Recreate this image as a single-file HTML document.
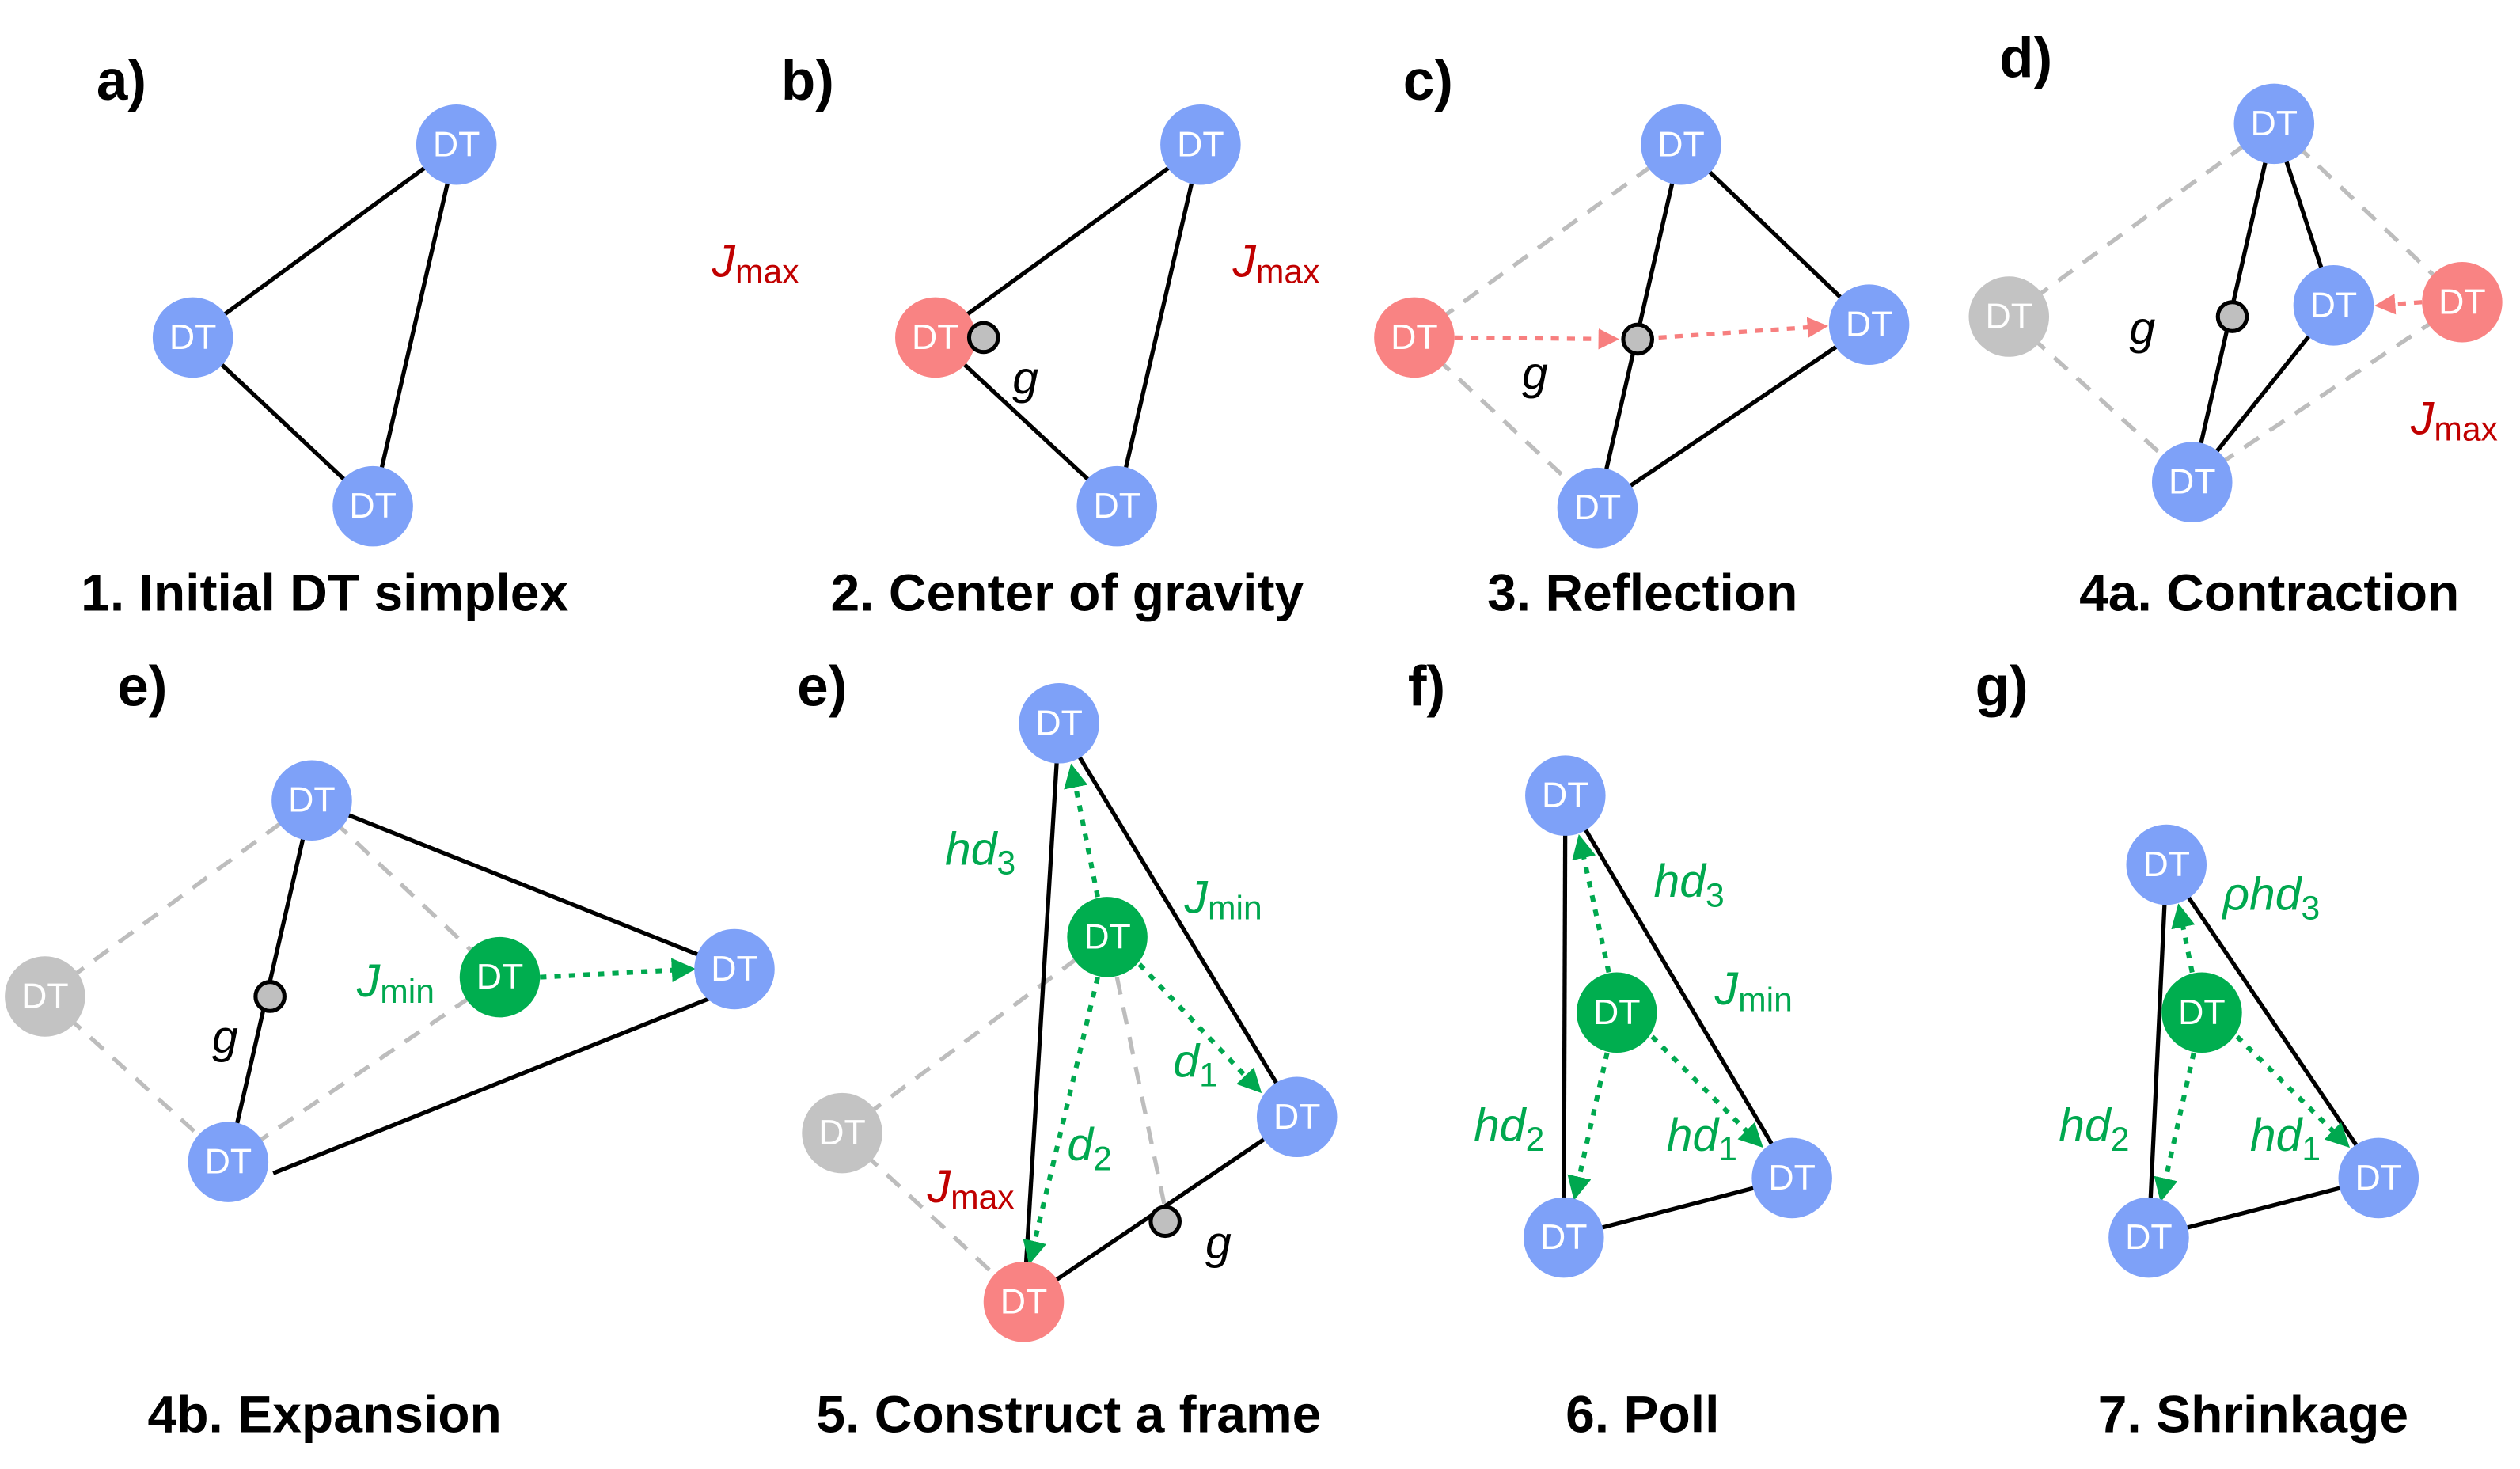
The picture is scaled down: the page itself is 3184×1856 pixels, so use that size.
<!DOCTYPE html>
<html><head><meta charset="utf-8"><style>
html,body{margin:0;padding:0;background:#fff}
svg{display:block}
text{font-family:"Liberation Sans",Arial,sans-serif}
.dt{fill:#fff;font-size:22px;text-anchor:middle;dominant-baseline:central}
.lab{font-size:35px;font-weight:bold}
.cap{font-size:32.5px;font-weight:bold;text-anchor:middle}
.it{font-style:italic;font-size:29px}
.sub{font-style:normal;font-size:21px}
.s{stroke:#000;stroke-width:2.6;fill:none}
.d{stroke:#bdbdbd;stroke-width:2.6;fill:none;stroke-dasharray:11 8}
.ga{stroke:#00a84f;stroke-width:3;fill:none;stroke-dasharray:4 5;marker-end:url(#ag)}
.ra{stroke:#f77f7f;stroke-width:2.6;fill:none;stroke-dasharray:5 5;marker-end:url(#ar)}
.b{fill:#7ea1f8}.r{fill:#f98383}.gr{fill:#c3c3c3}.gn{fill:#00ae4f}
.gp{fill:#bfbfbf;stroke:#000;stroke-width:2.5}
</style></head><body>
<svg width="3184" height="1856" viewBox="0 0 1568 914" xmlns="http://www.w3.org/2000/svg">
<defs>
<marker id="ag" markerWidth="5" markerHeight="5" refX="4" refY="2.5" orient="auto" markerUnits="strokeWidth"><path d="M0,0 L5,2.5 L0,5 Z" fill="#00a84f"/></marker>
<marker id="ar" markerWidth="5" markerHeight="5" refX="4" refY="2.5" orient="auto" markerUnits="strokeWidth"><path d="M0,0 L5,2.5 L0,5 Z" fill="#f77f7f"/></marker>
</defs>

<!-- a -->
<text class="lab" x="60" y="62">a)</text>
<line class="s" x1="120" y1="210" x2="284" y2="90"/><line class="s" x1="284" y1="90" x2="232" y2="315"/><line class="s" x1="232" y1="315" x2="120" y2="210"/>
<circle class="b" cx="284" cy="90" r="25"/><text class="dt" x="284" y="90">DT</text>
<circle class="b" cx="120" cy="210" r="25"/><text class="dt" x="120" y="210">DT</text>
<circle class="b" cx="232" cy="315" r="25"/><text class="dt" x="232" y="315">DT</text>
<text class="it" x="443" y="172" fill="#c00000">J<tspan class="sub" dy="4">max</tspan></text>
<text class="cap" x="202" y="380">1. Initial DT simplex</text>

<!-- b -->
<text class="lab" x="486" y="62">b)</text>
<line class="s" x1="582" y1="210" x2="747" y2="90"/><line class="s" x1="747" y1="90" x2="695" y2="315"/><line class="s" x1="695" y1="315" x2="582" y2="210"/>
<circle class="b" cx="747" cy="90" r="25"/><text class="dt" x="747" y="90">DT</text>
<circle class="r" cx="582" cy="210" r="25"/><text class="dt" x="582" y="210">DT</text>
<circle class="b" cx="695" cy="315" r="25"/><text class="dt" x="695" y="315">DT</text>
<circle class="gp" cx="612" cy="210" r="9"/>
<text class="it" x="630" y="245">g</text>
<text class="it" x="767" y="172" fill="#c00000">J<tspan class="sub" dy="4">max</tspan></text>
<text class="cap" x="664" y="380">2. Center of gravity</text>

<!-- c -->
<text class="lab" x="873" y="62">c)</text>
<line class="d" x1="880" y1="210" x2="1046" y2="90"/><line class="d" x1="880" y1="210" x2="994" y2="316"/>
<line class="s" x1="1046" y1="90" x2="1163" y2="202"/><line class="s" x1="1163" y1="202" x2="994" y2="316"/><line class="s" x1="1046" y1="90" x2="994" y2="316"/>
<line class="ra" x1="905" y1="210" x2="1005" y2="211"/><line class="ra" x1="1032" y1="210" x2="1135" y2="203"/>
<circle class="b" cx="1046" cy="90" r="25"/><text class="dt" x="1046" y="90">DT</text>
<circle class="r" cx="880" cy="210" r="25"/><text class="dt" x="880" y="210">DT</text>
<circle class="b" cx="1163" cy="202" r="25"/><text class="dt" x="1163" y="202">DT</text>
<circle class="b" cx="994" cy="316" r="25"/><text class="dt" x="994" y="316">DT</text>
<circle class="gp" cx="1019" cy="211" r="9"/>
<text class="it" x="947" y="242">g</text>
<text class="cap" x="1022" y="380">3. Reflection</text>

<!-- d -->
<text class="lab" x="1244" y="48">d)</text>
<line class="d" x1="1250" y1="197" x2="1415" y2="77"/><line class="d" x1="1415" y1="77" x2="1532" y2="188"/><line class="d" x1="1532" y1="188" x2="1364" y2="300"/><line class="d" x1="1250" y1="197" x2="1364" y2="300"/>
<line class="s" x1="1415" y1="77" x2="1364" y2="300"/><line class="s" x1="1415" y1="77" x2="1452" y2="190"/><line class="s" x1="1452" y1="190" x2="1364" y2="300"/>
<line class="ra" x1="1507" y1="188" x2="1480" y2="190"/>
<circle class="b" cx="1415" cy="77" r="25"/><text class="dt" x="1415" y="77">DT</text>
<circle class="gr" cx="1250" cy="197" r="25"/><text class="dt" x="1250" y="197">DT</text>
<circle class="b" cx="1452" cy="190" r="25"/><text class="dt" x="1452" y="190">DT</text>
<circle class="r" cx="1532" cy="188" r="25"/><text class="dt" x="1532" y="188">DT</text>
<circle class="b" cx="1364" cy="300" r="25"/><text class="dt" x="1364" y="300">DT</text>
<circle class="gp" cx="1389" cy="197" r="9"/>
<text class="it" x="1325" y="214">g</text>
<text class="it" x="1500" y="270" fill="#c00000">J<tspan class="sub" dy="4">max</tspan></text>
<text class="cap" x="1412" y="380">4a. Contraction</text>

<!-- e 4b -->
<text class="lab" x="73" y="439">e)</text>
<line class="d" x1="28" y1="620" x2="194" y2="498"/><line class="d" x1="28" y1="620" x2="142" y2="723"/><line class="d" x1="194" y1="498" x2="311" y2="608"/><line class="d" x1="142" y1="723" x2="311" y2="608"/>
<line class="s" x1="194" y1="498" x2="457" y2="603"/><line class="s" x1="170" y1="730" x2="457" y2="615"/><line class="s" x1="194" y1="498" x2="142" y2="723"/>
<line class="ga" x1="336" y1="608" x2="430" y2="603"/>
<circle class="b" cx="194" cy="498" r="25"/><text class="dt" x="194" y="498">DT</text>
<circle class="gr" cx="28" cy="620" r="25"/><text class="dt" x="28" y="620">DT</text>
<circle class="gn" cx="311" cy="608" r="25"/><text class="dt" x="311" y="608">DT</text>
<circle class="b" cx="457" cy="603" r="25"/><text class="dt" x="457" y="603">DT</text>
<circle class="b" cx="142" cy="723" r="25"/><text class="dt" x="142" y="723">DT</text>
<circle class="gp" cx="168" cy="620" r="9"/>
<text class="it" x="132" y="655">g</text>
<text class="it" x="222" y="620" fill="#00a84f">J<tspan class="sub" dy="4">min</tspan></text>
<text class="cap" x="202" y="891">4b. Expansion</text>

<!-- e 5 -->
<text class="lab" x="496" y="439">e)</text>
<line class="d" x1="524" y1="705" x2="672" y2="595"/><line class="d" x1="524" y1="705" x2="637" y2="810"/><line class="d" x1="695" y1="608" x2="725" y2="752"/>
<line class="s" x1="659" y1="450" x2="637" y2="810"/><line class="s" x1="659" y1="450" x2="807" y2="695"/><line class="s" x1="807" y1="695" x2="637" y2="810"/>
<line class="ga" x1="683" y1="558" x2="667" y2="478"/><line class="ga" x1="709" y1="600" x2="783" y2="678"/><line class="ga" x1="683" y1="608" x2="641" y2="784"/>
<circle class="b" cx="659" cy="450" r="25"/><text class="dt" x="659" y="450">DT</text>
<circle class="gn" cx="689" cy="583" r="25"/><text class="dt" x="689" y="583">DT</text>
<circle class="gr" cx="524" cy="705" r="25"/><text class="dt" x="524" y="705">DT</text>
<circle class="b" cx="807" cy="695" r="25"/><text class="dt" x="807" y="695">DT</text>
<circle class="r" cx="637" cy="810" r="25"/><text class="dt" x="637" y="810">DT</text>
<circle class="gp" cx="725" cy="760" r="9"/>
<text class="it" x="750" y="783">g</text>
<text class="it" x="588" y="538" fill="#00a84f">hd<tspan class="sub" dy="6">3</tspan></text>
<text class="it" x="737" y="568" fill="#00a84f">J<tspan class="sub" dy="4">min</tspan></text>
<text class="it" x="730" y="670" fill="#00a84f">d<tspan class="sub" dy="6">1</tspan></text>
<text class="it" x="664" y="722" fill="#00a84f">d<tspan class="sub" dy="6">2</tspan></text>
<text class="it" x="577" y="748" fill="#c00000">J<tspan class="sub" dy="4">max</tspan></text>
<text class="cap" x="665" y="891">5. Construct a frame</text>

<!-- f -->
<text class="lab" x="876" y="439">f)</text>
<line class="s" x1="974" y1="495" x2="973" y2="770"/><line class="s" x1="974" y1="495" x2="1115" y2="733"/><line class="s" x1="973" y1="770" x2="1115" y2="733"/>
<line class="ga" x1="1001" y1="605" x2="983" y2="522"/><line class="ga" x1="1000" y1="655" x2="980" y2="744"/><line class="ga" x1="1028" y1="645" x2="1095" y2="712"/>
<circle class="b" cx="974" cy="495" r="25"/><text class="dt" x="974" y="495">DT</text>
<circle class="gn" cx="1006" cy="630" r="25"/><text class="dt" x="1006" y="630">DT</text>
<circle class="b" cx="973" cy="770" r="25"/><text class="dt" x="973" y="770">DT</text>
<circle class="b" cx="1115" cy="733" r="25"/><text class="dt" x="1115" y="733">DT</text>
<text class="it" x="1029" y="558" fill="#00a84f">hd<tspan class="sub" dy="6">3</tspan></text>
<text class="it" x="1067" y="625" fill="#00a84f">J<tspan class="sub" dy="4">min</tspan></text>
<text class="it" x="917" y="710" fill="#00a84f">hd<tspan class="sub" dy="6">2</tspan></text>
<text class="it" x="1037" y="716" fill="#00a84f">hd<tspan class="sub" dy="6">1</tspan></text>
<text class="cap" x="1022" y="891">6. Poll</text>

<!-- g -->
<text class="lab" x="1229" y="439">g)</text>
<line class="s" x1="1348" y1="538" x2="1337" y2="770"/><line class="s" x1="1348" y1="538" x2="1480" y2="733"/><line class="s" x1="1337" y1="770" x2="1480" y2="733"/>
<line class="ga" x1="1364" y1="605" x2="1356" y2="565"/><line class="ga" x1="1365" y1="655" x2="1345" y2="745"/><line class="ga" x1="1392" y1="645" x2="1460" y2="712"/>
<circle class="b" cx="1348" cy="538" r="25"/><text class="dt" x="1348" y="538">DT</text>
<circle class="gn" cx="1370" cy="630" r="25"/><text class="dt" x="1370" y="630">DT</text>
<circle class="b" cx="1337" cy="770" r="25"/><text class="dt" x="1337" y="770">DT</text>
<circle class="b" cx="1480" cy="733" r="25"/><text class="dt" x="1480" y="733">DT</text>
<text class="it" x="1383" y="566" fill="#00a84f">ρhd<tspan class="sub" dy="6">3</tspan></text>
<text class="it" x="1281" y="710" fill="#00a84f">hd<tspan class="sub" dy="6">2</tspan></text>
<text class="it" x="1400" y="716" fill="#00a84f">hd<tspan class="sub" dy="6">1</tspan></text>
<text class="cap" x="1402" y="891">7. Shrinkage</text>
</svg>
</body></html>
